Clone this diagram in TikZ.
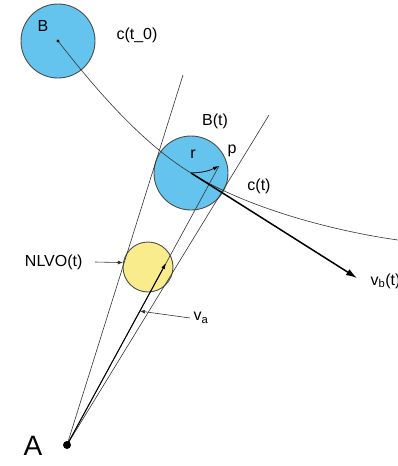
\documentclass[tikz,border=0pt]{standalone}
\usepackage{fontspec}
\setmainfont{Liberation Sans}
\usetikzlibrary{arrows.meta,calc}
\definecolor{discblue}{RGB}{100,196,238}
\definecolor{discyellow}{RGB}{248,236,140}

\begin{document}
\begin{tikzpicture}[x=1pt,y=-1pt,>=Latex,every node/.style={font=\fontsize{16}{18}\selectfont},
  disc/.style={circle,draw=black!70,line width=0.9pt,inner sep=0pt},
  ray/.style={black!80,line width=0.6pt}]
\useasboundingbox (0,0) rectangle (398,466);
\node[disc,fill=discblue,minimum size=74pt] (Bzero) at (58,41) {};
\node[disc,fill=discblue,minimum size=74pt] (Bt) at (191,173) {};
\node[disc,fill=discyellow,minimum size=50pt] (nlvo) at (148,267) {};
\coordinate (A) at (67,445);
\coordinate (lefttop) at (183,75);
\coordinate (righttop) at (269,115);
\coordinate (p) at (219,166);
\coordinate (vaend) at (166,263);
\coordinate (vbend) at (357,278);
\coordinate (cend) at (398,240);
\coordinate (vatip) at ($(A)!0.48!(p)$);
\draw[ray] (Bzero.center) .. controls (100,95) and (145,145) .. (Bt.center) .. controls (250,210) and (340,232) .. (cend);
\draw[ray] (A) -- (lefttop);
\draw[ray] (A) -- (righttop);
\draw[ray] (A) -- (p);
\draw[-{Latex[length=6pt,width=4pt]},line width=1pt] (A) -- (vaend);
\draw[-{Latex[length=11pt,width=7pt]},line width=1.5pt] (Bt.center) -- (vbend);
\draw[-{Latex[length=6pt,width=4pt]},line width=0.8pt] (Bt.center) to[bend right=12] (p);
\fill (A) circle (4pt);
\fill (Bzero.center) circle (1.6pt);
\node (Blabel) at (43,26) {B};
\node (ctzero) at (137,35) {c(t\_0)};
\node (Btlabel) at (215,121) {B(t)};
\node (rlabel) at (193,154) {r};
\node (plabel) at (232,151) {p};
\node (ctlabel) at (259,186) {c(t)};
\node[anchor=east] (nlvolabel) at (86,262) {NLVO(t)};
\node[anchor=west] (valabel) at (190,318) {v\textsubscript{a}};
\node[anchor=west] (vblabel) at (367,281) {v\textsubscript{b}(t)};
\node[font=\fontsize{28}{30}\selectfont] (Alabel) at (33,446) {A};
\draw[-{Latex[length=5pt,width=4pt]},ray] (nlvolabel.east) ++(9,0) -- (nlvo.170);
\draw[-{Latex[length=5pt,width=4pt]},ray] (valabel.west) -- (vatip);
\end{tikzpicture}
\end{document}
